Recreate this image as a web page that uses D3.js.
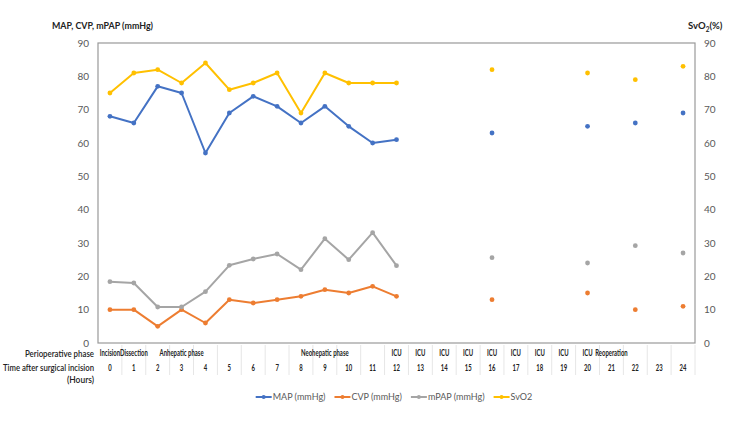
<!DOCTYPE html>
<html>
<head>
<meta charset="utf-8">
<script src="https://cdn.jsdelivr.net/npm/d3@7"></script>
<style>
  body { margin: 0; background: #fff; }
  svg { font-family: Lato, "Open Sans", "Liberation Sans", sans-serif; }
</style>
</head>
<body>
<div id="chart"></div>
<script>
// hours after incision (category axis)
var hours = ["0","1","2","3","4","5","6","7","8","9","10","11","12","13","14","15","16","17","18","19","20","21","22","23","24"];
var phases = ["Incision","Dissection","","Anhepatic phase","","","","","","Neohepatic phase","","","ICU","ICU","ICU","ICU","ICU","ICU","ICU","ICU","ICU","Reoperation","","",""];

var mapVals  = [68,66,77,75,57,69,74,71,66,71,65,60,61,null,null,null,63,null,null,null,65,null,66,null,69];
var cvpVals  = [10,10,5,10,6,13,12,13,14,16,15,17,14,null,null,null,13,null,null,null,15,null,10,null,11];
var mpapVals = [18.4,18,10.8,10.8,15.4,23.3,25.2,26.7,22,31.3,25,33.1,23.2,null,null,null,25.6,null,null,null,24,null,29.2,null,27];
var svo2Vals = [75,81,82,78,84,76,78,81,69,81,78,78,78,null,null,null,82,null,null,null,81,null,79,null,83];

var yTicks = [0,10,20,30,40,50,60,70,80,90];

var series = [
  {name: "MAP (mmHg)",  values: mapVals,  color: "#4472C4"},
  {name: "CVP (mmHg)",  values: cvpVals,  color: "#ED7D31"},
  {name: "mPAP (mmHg)", values: mpapVals, color: "#A5A5A5"},
  {name: "SvO2",        values: svo2Vals, color: "#FFC000"}
];

(function(){
  var w = 750, h = 422;
  var pl = 98, pr = 695, pt = 43, pb = 343;

  var svg = d3.select("#chart").append("svg")
    .attr("width", w).attr("height", h);

  var x = d3.scaleBand().domain(hours).range([pl, pr]);
  var y = d3.scaleLinear().domain([0, 90]).range([pb, pt]);

  // keeps a text inside a given width (the chart used a narrow face)
  var fit = function(sel, maxW) {
    sel.each(function() {
      if (this.getComputedTextLength() > maxW) {
        d3.select(this).attr("textLength", maxW).attr("lengthAdjust", "spacingAndGlyphs");
      }
    });
  };

  // plot frame
  svg.append("rect")
    .attr("x", pl).attr("y", pt)
    .attr("width", pr - pl).attr("height", pb - pt)
    .attr("fill", "none").attr("stroke", "#999").attr("stroke-width", 1.2);

  // left axis
  var gL = svg.append("g")
    .attr("transform", "translate(" + (pl - 4) + ",0)")
    .call(d3.axisLeft(y).tickValues(yTicks).tickSize(0).tickPadding(5));
  gL.select(".domain").remove();
  gL.selectAll("text").attr("fill", "#595959").style("font-size", "10px").style("font-family", "Lato, sans-serif");

  // right axis
  var gR = svg.append("g")
    .attr("transform", "translate(" + (pr + 4) + ",0)")
    .call(d3.axisRight(y).tickValues(yTicks).tickSize(0).tickPadding(5));
  gR.select(".domain").remove();
  gR.selectAll("text").attr("fill", "#595959").style("font-size", "10px").style("font-family", "Lato, sans-serif");

  // axis titles
  svg.append("text")
    .attr("x", 52).attr("y", 29)
    .style("font-size", "9.5px").style("font-weight", "bold").attr("fill", "#222")
    .text("MAP, CVP, mPAP (mmHg)")
    .call(fit, 101);

  var rt = svg.append("text")
    .attr("x", 688).attr("y", 29)
    .style("font-size", "9.5px").style("font-weight", "bold").attr("fill", "#222");
  rt.append("tspan").text("SvO");
  rt.append("tspan").attr("dy", 3).style("font-size", "6.5px").text("2");
  rt.append("tspan").attr("dy", -3).text("(%)");

  // table below the axis
  var tbl = svg.append("g");
  tbl.selectAll("line.sep")
    .data(hours)
    .enter().append("line")
    .attr("class", "sep")
    .attr("x1", function(d) { return x(d) + x.bandwidth(); })
    .attr("x2", function(d) { return x(d) + x.bandwidth(); })
    .attr("y1", pb + 2).attr("y2", pb + 32)
    .attr("stroke", "#e6e6e6").attr("stroke-width", 1);

  var narrow = function(sel, yy) {
    sel.attr("transform", function(d, i) {
      return "translate(" + (x(hours[i]) + x.bandwidth() / 2) + "," + yy + ") scale(0.7,1)";
    })
    .attr("text-anchor", "middle")
    .style("font-size", "8.5px").style("font-weight", "bold").attr("fill", "#222");
  };

  tbl.selectAll("text.phase")
    .data(phases)
    .enter().append("text")
    .attr("class", "phase")
    .call(narrow, 356)
    .text(function(d) { return d; });

  tbl.selectAll("text.hour")
    .data(hours)
    .enter().append("text")
    .attr("class", "hour")
    .call(narrow, 371)
    .text(function(d) { return d; });

  var rowLabels = [["Perioperative phase", 357, 69], ["Time after surgical incision", 371, 91], ["(Hours)", 383, 27]];
  tbl.selectAll("text.rowlab")
    .data(rowLabels)
    .enter().append("text")
    .attr("class", "rowlab")
    .attr("x", 94).attr("y", function(d) { return d[1]; })
    .attr("text-anchor", "end")
    .style("font-size", "9.5px").style("font-weight", "600").attr("fill", "#222")
    .text(function(d) { return d[0]; })
    .each(function(d) { d3.select(this).call(fit, d[2]); });

  // lines and points
  var cx = function(i) { return x(hours[i]) + x.bandwidth() / 2; };
  var line = d3.line()
    .defined(function(d) { return d != null; })
    .x(function(d, i) { return cx(i); })
    .y(function(d) { return y(d); });

  series.forEach(function(s) {
    svg.append("path")
      .datum(s.values)
      .attr("fill", "none")
      .attr("stroke", s.color)
      .attr("stroke-width", 2)
      .attr("stroke-linejoin", "round")
      .attr("d", line);

    svg.append("g").selectAll("circle")
      .data(s.values.map(function(v, i) { return {v: v, i: i}; }).filter(function(d) { return d.v != null; }))
      .enter().append("circle")
      .attr("cx", function(d) { return cx(d.i); })
      .attr("cy", function(d) { return y(d.v); })
      .attr("r", 2.4)
      .attr("fill", s.color);
  });

  // legend, laid out left to right and centred
  var legG = svg.append("g");
  var leg = legG.selectAll("g")
    .data(series)
    .enter().append("g");
  leg.append("line")
    .attr("x1", 0).attr("x2", 16)
    .attr("stroke", function(d) { return d.color; }).attr("stroke-width", 2);
  leg.append("circle")
    .attr("cx", 8).attr("r", 2).attr("fill", function(d) { return d.color; });
  leg.append("text")
    .attr("x", 17).attr("y", 3.2)
    .style("font-size", "9px").attr("fill", "#595959")
    .text(function(d) { return d.name; });
  var pos = 0;
  leg.each(function() {
    var g = d3.select(this);
    g.attr("transform", "translate(" + pos + ",0)");
    pos += 17 + g.select("text").node().getComputedTextLength() + 9;
  });
  legG.attr("transform", "translate(" + (394 - (pos - 9) / 2) + ",397)");
})();
</script>
</body>
</html>
